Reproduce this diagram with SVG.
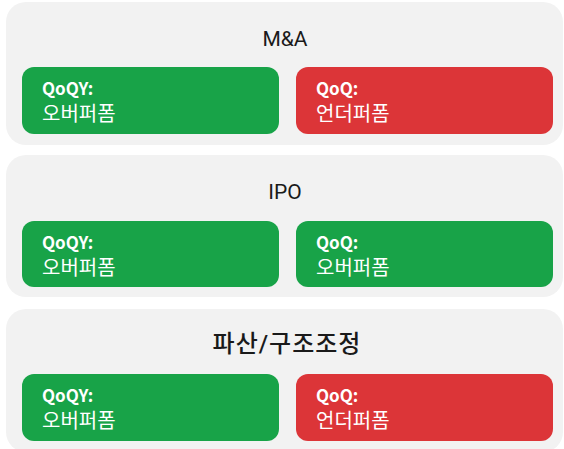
<svg xmlns="http://www.w3.org/2000/svg" width="564" height="449" viewBox="0 0 564 449">
<style>
.panel{fill:#f2f2f2}
.green{fill:#18a348}
.red{fill:#dc3538}
.title{font-family:Roboto,"Noto Sans CJK KR",sans-serif;font-size:21px;fill:#1a1a1a;text-anchor:middle}
.ko{font-size:24px;font-weight:500;letter-spacing:1px}
.lbl{font-family:"Noto Sans CJK KR","Noto Sans",sans-serif;font-size:17px;font-weight:bold;fill:#ffffff}
.val{font-family:"Noto Sans CJK KR","Noto Sans",sans-serif;font-size:20px;fill:#ffffff}
</style>
<rect width="564" height="449" fill="#ffffff"/>
<g id="panel-ma">
<rect class="panel" x="6" y="2" width="557" height="143" rx="20"/>
<text class="title" x="285" y="46">M&amp;A</text>
</g>
<g id="ma-qoqy">
<rect class="green" x="22" y="67" width="257" height="67" rx="12"/>
<text class="lbl" x="42" y="95">QoQY:</text>
<text class="val" x="42" y="121">오버퍼폼</text>
</g>
<g id="ma-qoq">
<rect class="red" x="296" y="67" width="257" height="67" rx="12"/>
<text class="lbl" x="316" y="95">QoQ:</text>
<text class="val" x="316" y="121">언더퍼폼</text>
</g>
<g id="panel-ipo">
<rect class="panel" x="6" y="155" width="557" height="142" rx="20"/>
<text class="title" x="285" y="199">IPO</text>
</g>
<g id="ipo-qoqy">
<rect class="green" x="22" y="221" width="257" height="66" rx="12"/>
<text class="lbl" x="42" y="249">QoQY:</text>
<text class="val" x="42" y="275">오버퍼폼</text>
</g>
<g id="ipo-qoq">
<rect class="green" x="296" y="221" width="257" height="66" rx="12"/>
<text class="lbl" x="316" y="249">QoQ:</text>
<text class="val" x="316" y="275">오버퍼폼</text>
</g>
<g id="panel-bankruptcy">
<rect class="panel" x="6" y="309" width="557" height="143" rx="20"/>
<text class="title ko" x="287" y="352">파산/구조조정</text>
</g>
<g id="br-qoqy">
<rect class="green" x="22" y="374" width="257" height="67" rx="12"/>
<text class="lbl" x="42" y="402">QoQY:</text>
<text class="val" x="42" y="428">오버퍼폼</text>
</g>
<g id="br-qoq">
<rect class="red" x="296" y="374" width="257" height="67" rx="12"/>
<text class="lbl" x="316" y="402">QoQ:</text>
<text class="val" x="316" y="428">언더퍼폼</text>
</g>
<g id="connectors"></g>
</svg>
